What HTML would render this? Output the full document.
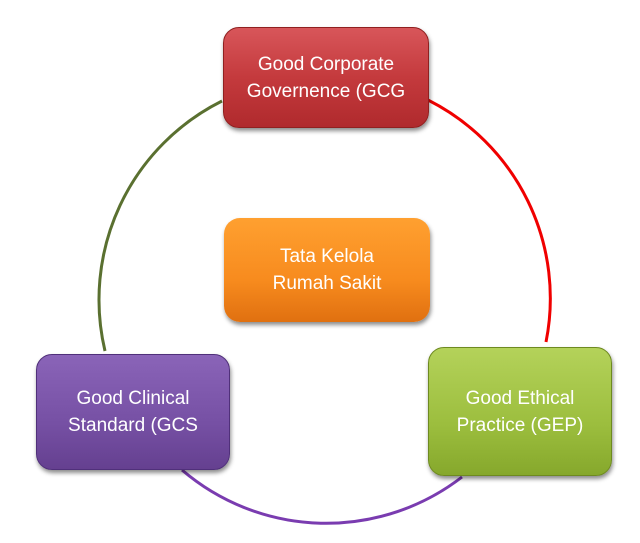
<!DOCTYPE html>
<html><head><style>
body{margin:0;width:640px;height:543px;background:#fff;overflow:hidden;position:relative;font-family:"Liberation Sans",sans-serif}
.b{position:absolute;border-radius:16px;color:#fff;font-size:19px;line-height:27px;text-align:center;display:flex;align-items:center;justify-content:center;box-shadow:1px 3px 4px rgba(0,0,0,.45)}
</style></head><body>
<svg width="640" height="543" style="position:absolute;left:0;top:0">
<path d="M222,101 A222,222 0 0 0 105,351" fill="none" stroke="#5a7030" stroke-width="3"/>
<path d="M428,100 A222,222 0 0 1 546,342" fill="none" stroke="#f00000" stroke-width="3"/>
<path d="M182,470 A222,222 0 0 0 462,477" fill="none" stroke="#7a3cb0" stroke-width="3"/>
</svg>
<div class="b" style="left:223px;top:27px;width:204px;height:99px;background:linear-gradient(#d8565a,#c43a3d 50%,#b02a2d);border:1px solid #902020">Good Corporate<br>Governence (GCG</div>
<div class="b" style="left:224px;top:218px;width:206px;height:104px;background:linear-gradient(#ffa030,#f78b1e 60%,#e07010)">Tata Kelola<br>Rumah Sakit</div>
<div class="b" style="left:36px;top:354px;width:192px;height:114px;background:linear-gradient(#8a64b8,#7650a4 60%,#654090);border:1px solid #50307a">Good Clinical<br>Standard (GCS</div>
<div class="b" style="left:428px;top:347px;width:182px;height:127px;background:linear-gradient(#b4d25a,#9cbe3e 60%,#86a82c);border:1px solid #6e8a20">Good Ethical<br>Practice (GEP)</div>
</body></html>
